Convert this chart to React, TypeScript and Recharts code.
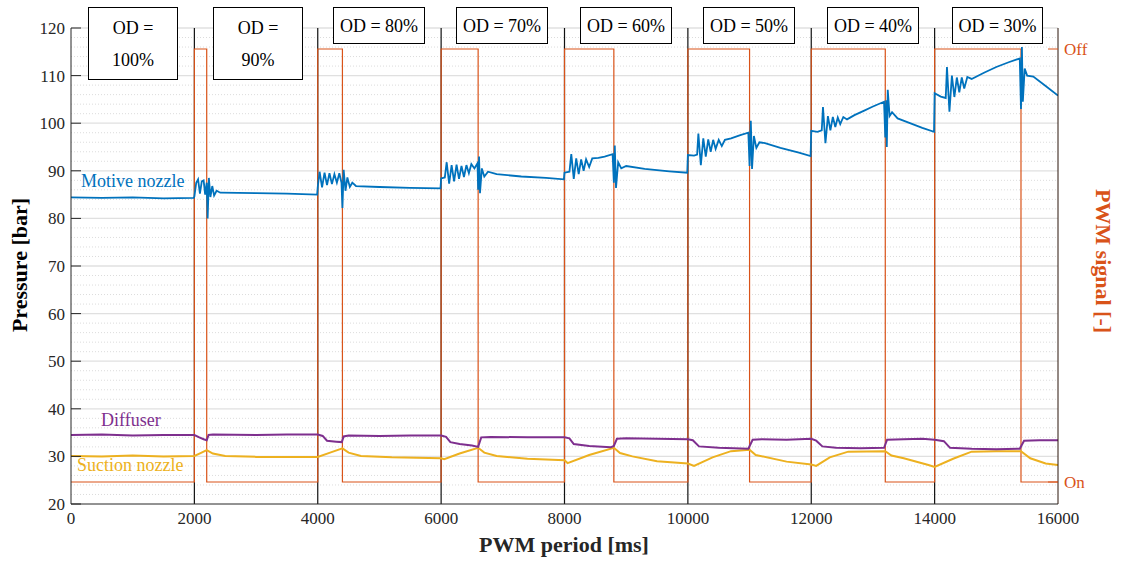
import React from "react";
import { LineChart, Line, XAxis, YAxis, ReferenceLine } from "recharts";

// ---- Data ----
const X_TICKS = [0, 2000, 4000, 6000, 8000, 10000, 12000, 14000, 16000];
const Y_TICKS = [20, 30, 40, 50, 60, 70, 80, 90, 100, 110, 120];
const Y_MINOR = [22, 24, 26, 28, 32, 34, 36, 38, 42, 44, 46, 48, 52, 54, 56, 58, 62, 64, 66, 68, 72, 74, 76, 78, 82, 84, 86, 88, 92, 94, 96, 98, 102, 104, 106, 108, 112, 114, 116, 118];
const SEPARATORS = [2000, 4000, 6000, 8000, 10000, 12000, 14000];
const PWM_TICKS = [0, 1];
const PWM_LABELS: Record<number, string> = { 0: "On", 1: "Off" };
const OD_LABELS = ["100%", "90%", "80%", "70%", "60%", "50%", "40%", "30%"];

const PWM_SIGNAL: [number, number][] = [
  [0, 0], [2000, 0], [2000, 1], [2200, 1], [2200, 0], [4000, 0], [4000, 1], [4400, 1], [4400, 0],
  [6000, 0], [6000, 1], [6600, 1], [6600, 0], [8000, 0], [8000, 1], [8800, 1], [8800, 0],
  [10000, 0], [10000, 1], [11000, 1], [11000, 0], [12000, 0], [12000, 1], [13200, 1], [13200, 0],
  [14000, 0], [14000, 1], [15400, 1], [15400, 0], [16000, 0],
];

const MOTIVE_NOZZLE: [number, number][] = [
  [0, 84.4], [500, 84.3], [1000, 84.4], [1500, 84.2], [1990, 84.3],
  [2000, 84.6], [2030, 87.5], [2060, 88.2], [2090, 85.2], [2120, 87.8], [2150, 88.0], [2175, 85.0], [2200, 87.5], [2215, 80.0], [2235, 88.5], [2260, 84.5], [2290, 86.8], [2320, 84.8], [2360, 85.8], [2420, 85.4], [3000, 85.3], [3500, 85.2], [3990, 85.0],
  [4000, 86.6], [4030, 89.8], [4070, 86.5], [4110, 89.6], [4150, 87.0], [4190, 89.5], [4230, 87.2], [4270, 89.3], [4310, 87.5], [4350, 89.5], [4385, 87.5], [4400, 82.2], [4420, 90.2], [4450, 85.8], [4480, 88.6], [4520, 86.6], [4560, 87.5], [4620, 86.8], [5000, 86.6], [5500, 86.4], [5990, 86.3],
  [6000, 88.4], [6060, 88.6], [6090, 91.8], [6130, 87.3], [6170, 91.2], [6210, 87.8], [6250, 91.3], [6290, 88.3], [6330, 91.0], [6370, 88.7], [6410, 91.2], [6450, 89.5], [6490, 91.4], [6540, 90.5], [6590, 91.6], [6600, 86.0], [6615, 93.0], [6630, 85.3], [6660, 90.5], [6700, 88.8], [6760, 89.8], [6900, 89.3], [7300, 88.8], [7700, 88.5], [7990, 88.2],
  [8000, 89.6], [8080, 89.8], [8110, 93.5], [8150, 88.3], [8190, 92.6], [8230, 89.3], [8270, 92.4], [8310, 90.0], [8350, 92.4], [8400, 90.8], [8450, 92.6], [8550, 92.7], [8650, 93.0], [8780, 93.5], [8800, 87.5], [8815, 95.3], [8835, 86.4], [8870, 91.8], [8920, 90.5], [9000, 91.0], [9300, 90.4], [9700, 89.9], [9990, 89.6],
  [10000, 93.3], [10100, 93.2], [10150, 93.4], [10170, 97.8], [10210, 91.2], [10250, 96.8], [10290, 93.0], [10330, 96.6], [10370, 94.0], [10410, 96.5], [10450, 94.6], [10500, 96.5], [10550, 95.2], [10600, 96.5], [10700, 96.8], [10850, 97.5], [10980, 98.0], [11000, 91.0], [11020, 100.5], [11040, 90.4], [11070, 97.3], [11110, 94.8], [11160, 96.0], [11250, 95.8], [11500, 94.8], [11800, 93.8], [11990, 93.1],
  [12000, 98.4], [12100, 98.2], [12170, 98.5], [12190, 103.4], [12230, 95.8], [12270, 101.5], [12310, 98.5], [12350, 101.3], [12390, 99.2], [12430, 101.2], [12470, 99.8], [12520, 101.3], [12580, 100.8], [12700, 101.7], [12850, 102.6], [13000, 103.5], [13180, 104.5], [13200, 97.0], [13215, 104.8], [13225, 95.0], [13240, 107.0], [13270, 101.5], [13310, 102.3], [13400, 101.0], [13600, 100.0], [13800, 99.0], [13990, 98.2],
  [14000, 106.3], [14100, 105.6], [14180, 105.3], [14200, 111.8], [14240, 102.4], [14280, 110.0], [14320, 105.5], [14360, 109.6], [14400, 106.5], [14440, 109.6], [14480, 107.3], [14530, 109.7], [14600, 109.3], [14800, 110.6], [15000, 111.8], [15200, 112.8], [15380, 113.6], [15400, 103.0], [15415, 116.0], [15430, 104.5], [15460, 111.5], [15500, 110.0], [15600, 109.8], [15800, 107.8], [16000, 105.8],
];

const DIFFUSER: [number, number][] = [
  [0, 34.5], [500, 34.6], [1000, 34.4], [1500, 34.5], [2000, 34.5], [2080, 34.0], [2150, 33.6], [2200, 33.4], [2230, 34.5], [2300, 34.6], [3000, 34.5], [3500, 34.6],
  [4000, 34.6], [4080, 34.3], [4150, 33.3], [4300, 33.1], [4390, 33.0], [4420, 34.2], [4500, 34.4], [5000, 34.3], [5500, 34.4],
  [6000, 34.4], [6080, 34.1], [6150, 33.0], [6300, 32.6], [6500, 32.3], [6600, 32.0], [6650, 34.0], [6800, 34.1], [7400, 34.0],
  [8000, 34.0], [8080, 33.8], [8150, 32.6], [8400, 32.2], [8750, 31.9], [8800, 32.2], [8850, 33.7], [9000, 33.8], [9500, 33.7],
  [10000, 33.6], [10080, 33.4], [10180, 32.1], [10500, 31.8], [10980, 31.6], [11050, 33.5], [11200, 33.6], [11600, 33.5],
  [12000, 33.7], [12080, 33.3], [12180, 32.1], [12400, 31.8], [12800, 31.7], [13180, 31.8], [13230, 33.5], [13500, 33.6], [13800, 33.7],
  [14000, 33.5], [14150, 33.2], [14250, 31.8], [14600, 31.6], [15000, 31.5], [15380, 31.6], [15450, 33.3], [15700, 33.4], [16000, 33.4],
];

const SUCTION_NOZZLE: [number, number][] = [
  [0, 30.1], [500, 30.0], [1000, 30.2], [1500, 30.0], [2000, 30.1], [2100, 30.7], [2200, 31.3], [2300, 30.6], [2500, 30.1], [3000, 29.9], [3500, 29.9],
  [4000, 29.9], [4200, 30.8], [4400, 31.7], [4500, 30.8], [4700, 30.1], [5200, 29.8],
  [6000, 29.6], [6050, 29.4], [6300, 30.6], [6600, 31.8], [6700, 30.8], [6900, 30.1], [7400, 29.5],
  [8000, 29.2], [8050, 28.6], [8400, 30.3], [8800, 31.8], [8900, 30.7], [9100, 30.0], [9500, 29.0],
  [10000, 28.5], [10100, 28.0], [10400, 29.8], [10700, 31.1], [11000, 31.4], [11100, 30.3], [11600, 28.9],
  [12000, 28.3], [12080, 28.0], [12300, 29.8], [12600, 31.0], [13200, 31.1], [13300, 30.2], [13500, 29.6], [13900, 28.2],
  [14000, 27.8], [14300, 29.5], [14600, 31.0], [15000, 31.1], [15400, 31.1], [15550, 29.6], [15800, 28.5], [16000, 28.2],
];

const toRows = (pts: [number, number][]) => pts.map(([x, y]) => ({ x, y }));

const SERIF = '"Liberation Serif", "Times New Roman", serif';
const BLUE = "#0072BD";
const ORANGE = "#D95319";
const YELLOW = "#EDB120";
const PURPLE = "#7E2F8E";
const TEXT = "#262626";

const LeftTick = (props: any) => {
  const { x, y, payload } = props;
  return (
    <g>
      <line x1={x + 6} x2={x + 16} y1={y} y2={y} stroke={TEXT} strokeWidth={1} />
      <text x={x} y={y} dy="0.35em" textAnchor="end" fontFamily={SERIF} fontSize={17} fill={TEXT}>
        {payload.value}
      </text>
    </g>
  );
};

const RightTick = (props: any) => {
  const { x, y, payload } = props;
  return (
    <g>
      <line x1={x - 16} x2={x - 6} y1={y} y2={y} stroke={ORANGE} strokeWidth={1} />
      <text x={x} y={y} dy="0.35em" textAnchor="start" fontFamily={SERIF} fontSize={17} fill={ORANGE}>
        {PWM_LABELS[payload.value]}
      </text>
    </g>
  );
};

const BOXES = [
  { l: 88, t: 7, w: 90, h: 73, two: true },
  { l: 213, t: 7, w: 90, h: 73, two: true },
  { l: 333, t: 7, w: 92, h: 37, two: false },
  { l: 456, t: 7, w: 92, h: 37, two: false },
  { l: 580, t: 7, w: 92, h: 37, two: false },
  { l: 703, t: 7, w: 92, h: 37, two: false },
  { l: 827, t: 7, w: 92, h: 37, two: false },
  { l: 952, t: 7, w: 91, h: 37, two: false },
];

export default function App() {
  return (
    <div style={{ position: "absolute", left: 0, top: 0, width: 1122, height: 561, background: "#fff", fontFamily: SERIF }}>
      <LineChart width={1122} height={561} margin={{ top: 28, right: 0, bottom: 0, left: 0 }}>
        <XAxis
          dataKey="x"
          type="number"
          domain={[0, 16000]}
          ticks={X_TICKS}
          allowDataOverflow
          tickLine={false}
          tickSize={0}
          tickMargin={8}
          height={57}
          axisLine={{ stroke: TEXT, strokeWidth: 1 }}
          tick={{ fontFamily: SERIF, fontSize: 17, fill: TEXT }}
        />
        <YAxis
          yAxisId="p"
          type="number"
          domain={[20, 120]}
          ticks={Y_TICKS}
          width={71}
          tickLine={false}
          tickSize={0}
          tickMargin={6}
          axisLine={{ stroke: TEXT, strokeWidth: 1 }}
          tick={<LeftTick />}
        />
        <YAxis
          yAxisId="pwm"
          orientation="right"
          type="number"
          domain={[-0.0508, 1.0485]}
          ticks={PWM_TICKS}
          width={64}
          tickLine={false}
          tickSize={0}
          tickMargin={6}
          axisLine={{ stroke: "#2a150a", strokeWidth: 1 }}
          tick={<RightTick />}
        />
        {Y_MINOR.map((v) => (
          <ReferenceLine key={"mn" + v} yAxisId="p" y={v} stroke="#dcdcdc" strokeDasharray="1 2" strokeWidth={1} />
        ))}
        {Y_TICKS.filter((v) => v !== 20).map((v) => (
          <ReferenceLine key={"mj" + v} yAxisId="p" y={v} stroke="#e0e0e0" strokeWidth={1.3} />
        ))}
        {SEPARATORS.map((v) => (
          <ReferenceLine key={"s" + v} yAxisId="p" x={v} stroke="#111" strokeWidth={1.2} />
        ))}
        <Line yAxisId="pwm" data={toRows(PWM_SIGNAL)} dataKey="y" stroke={ORANGE} strokeWidth={1.2} dot={false} isAnimationActive={false} />
        <Line yAxisId="p" data={toRows(SUCTION_NOZZLE)} dataKey="y" stroke={YELLOW} strokeWidth={2} dot={false} isAnimationActive={false} />
        <Line yAxisId="p" data={toRows(DIFFUSER)} dataKey="y" stroke={PURPLE} strokeWidth={2} dot={false} isAnimationActive={false} />
        <Line yAxisId="p" data={toRows(MOTIVE_NOZZLE)} dataKey="y" stroke={BLUE} strokeWidth={1.8} dot={false} isAnimationActive={false} />
      </LineChart>

      {BOXES.map((b, i) => (
        <div
          key={"b" + i}
          style={{
            position: "absolute", left: b.l, top: b.t, width: b.w, height: b.h, boxSizing: "border-box",
            border: "1.3px solid #000", background: "#fff", fontSize: 18, color: "#000",
            display: "flex", flexDirection: "column", alignItems: "center", justifyContent: "center",
            lineHeight: b.two ? "32px" : "20px", whiteSpace: "nowrap",
          }}
        >
          {b.two ? (
            <>
              <div>OD =</div>
              <div>{OD_LABELS[i]}</div>
            </>
          ) : (
            <div>OD = {OD_LABELS[i]}</div>
          )}
        </div>
      ))}

      <div style={{ position: "absolute", left: 81, top: 171, fontSize: 18, color: BLUE, whiteSpace: "nowrap" }}>Motive nozzle</div>
      <div style={{ position: "absolute", left: 101, top: 410, fontSize: 18, color: PURPLE, whiteSpace: "nowrap" }}>Diffuser</div>
      <div style={{ position: "absolute", left: 77, top: 455, fontSize: 18, color: YELLOW, whiteSpace: "nowrap" }}>Suction nozzle</div>

      <div style={{ position: "absolute", left: 464, top: 532, width: 200, textAlign: "center", fontSize: 22, fontWeight: "bold", color: TEXT, whiteSpace: "nowrap" }}>
        PWM period [ms]
      </div>
      <div style={{ position: "absolute", left: 20, top: 266, width: 0, height: 0 }}>
        <div style={{ position: "absolute", left: -100, top: -14, width: 200, textAlign: "center", fontSize: 22, fontWeight: "bold", color: "#000", whiteSpace: "nowrap", transform: "rotate(-90deg)" }}>
          Pressure [bar]
        </div>
      </div>
      <div style={{ position: "absolute", left: 1103, top: 262, width: 0, height: 0 }}>
        <div style={{ position: "absolute", left: -100, top: -14, width: 200, textAlign: "center", fontSize: 22, fontWeight: "bold", color: ORANGE, whiteSpace: "nowrap", transform: "rotate(90deg)" }}>
          PWM signal [-]
        </div>
      </div>
    </div>
  );
}
